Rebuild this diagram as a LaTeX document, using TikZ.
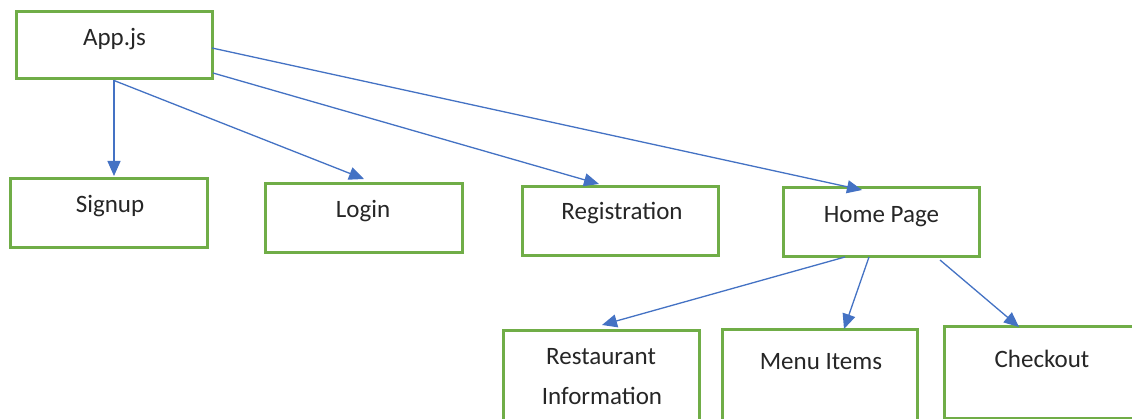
\documentclass[tikz,border=0pt]{standalone}
\usepackage{fontspec}
\setmainfont{Carlito}
\usetikzlibrary{arrows.meta}
\definecolor{boxgreen}{HTML}{70AD47}
\definecolor{linkblue}{HTML}{4472C4}
\begin{document}
\begin{tikzpicture}[x=1pt,y=-1pt,
  box/.style={draw=boxgreen, line width=3pt, fill=white, inner sep=0pt, minimum width=#1},
  box/.default=196pt,
  lbl/.style={anchor=base, inner sep=0pt, font=\fontsize{25}{30}\selectfont, text=black!85},
  link/.style={draw=linkblue, line width=1.3pt, -{Triangle[length=15pt,width=13pt]}}]
\useasboundingbox (0,0) rectangle (1132,419);
\clip (0,0) rectangle (1132,419);
\fill[white] (0,0) rectangle (1132,419);

% boxes
\node[box, minimum height=67pt] (app) at (114,45.5) {};
\node[box=197pt, minimum height=69pt] (signup) at (108.5,213.5) {};
\node[box=197pt, minimum height=69pt] (login) at (363.5,218.5) {};
\node[box, minimum height=69pt] (reg) at (620,221.5) {};
\node[box, minimum height=69pt] (home) at (881,222.5) {};
\node[box, minimum height=110pt] (rest) at (601,386) {};
\node[box=195pt, minimum height=110pt] (menu) at (819.5,385) {};
\node[box, minimum height=91pt] (check) at (1042,372.5) {};

% labels
\node[lbl] (tapp) at (114.5,46) {App.js};
\node[lbl] (tsignup) at (110,213) {Signup};
\node[lbl] (tlogin) at (363,218) {Login};
\node[lbl] (treg) at (622,220) {Registration};
\node[lbl] (thome) at (881.5,223) {Home Page};
\node[lbl] (trest) at (601,364) {Restaurant};
\node[lbl] (tinfo) at (602,404) {Information};
\node[lbl] (tmenu) at (821,370) {Menu Items};
\node[lbl] (tcheck) at (1042,367) {Checkout};

% arrow ends
\coordinate (aHome) at (212,48);
\coordinate (aReg) at (213,73);
\coordinate (hRest) at (845,257);
\coordinate (hMenu) at (869,257);
\coordinate (hCheck) at (940,260);
\coordinate (pSignup) at (114,176);
\coordinate (pLogin) at (364,179);
\coordinate (pReg) at (599,184);
\coordinate (pHome) at (862,190);
\coordinate (pRest) at (602,325);
\coordinate (pMenu) at (844,329);
\coordinate (pCheck) at (1019,327);

% connectors
\draw[link] (app.south) -- (pSignup);
\draw[link] (app.south) -- (pLogin);
\draw[link] (aReg) -- (pReg);
\draw[link] (aHome) -- (pHome);
\draw[link] (hRest) -- (pRest);
\draw[link] (hMenu) -- (pMenu);
\draw[link] (hCheck) -- (pCheck);
\end{tikzpicture}
\end{document}
